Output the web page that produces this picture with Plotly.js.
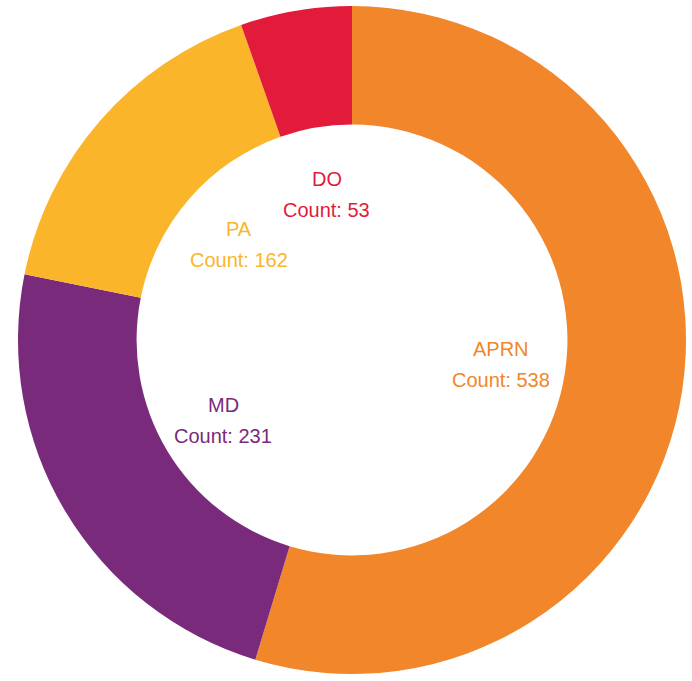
<!DOCTYPE html>
<html>
<head>
<meta charset="utf-8">
<script src="https://cdn.plot.ly/plotly-3.0.1.min.js"></script>
<style>html,body{margin:0;padding:0;background:#fff;}#chart{width:692px;height:681px;}</style>
</head>
<body>
<div id="chart"></div>
<script>
const categories = ["APRN", "MD", "PA", "DO"];
const counts = [538, 231, 162, 53];
const colors = ["#F1862A", "#7A2A7B", "#FAB52B", "#E21B3A"];

const W = 692, H = 681;
const cx = 352, cy = 340, R = 334;
const domX = [(cx - R) / W, (cx + R) / W];
const domY = [1 - (cy + R) / H, 1 - (cy - R) / H];
const labelR = 0.45 * R;
const labelCy = cy + 3;
const lineGap = 15.5;

const total = counts.reduce((a, b) => a + b, 0);
let cum = 0;
const annotations = [];
categories.forEach((c, i) => {
  const mid = (cum + counts[i] / 2) / total * 2 * Math.PI;
  cum += counts[i];
  const px = cx + labelR * Math.sin(mid);
  const py = labelCy - labelR * Math.cos(mid);
  const font = {family: "Liberation Sans, Arial, sans-serif", size: 20, color: colors[i]};
  annotations.push({
    x: px / W, y: 1 - (py - lineGap) / H, xref: "paper", yref: "paper",
    text: c, showarrow: false, xanchor: "center", yanchor: "middle", font: font
  });
  annotations.push({
    x: px / W, y: 1 - (py + lineGap) / H, xref: "paper", yref: "paper",
    text: "Count: " + counts[i], showarrow: false, xanchor: "center", yanchor: "middle", font: font
  });
});

const data = [{
  type: "pie",
  labels: categories,
  values: counts,
  hole: 0.645,
  sort: false,
  direction: "clockwise",
  rotation: 0,
  marker: {colors: colors, line: {width: 0}},
  textinfo: "none",
  hoverinfo: "label+value",
  domain: {x: domX, y: domY}
}];

const layout = {
  width: W, height: H,
  margin: {l: 0, r: 0, t: 0, b: 0},
  showlegend: false,
  paper_bgcolor: "#ffffff",
  annotations: annotations
};

Plotly.newPlot("chart", data, layout, {displayModeBar: false, staticPlot: true});
</script>
</body>
</html>
